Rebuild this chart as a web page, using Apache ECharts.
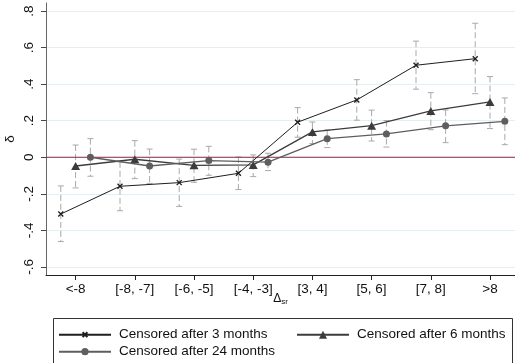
<!DOCTYPE html>
<html>
<head>
<meta charset="utf-8">
<script src="https://cdn.jsdelivr.net/npm/echarts@6/dist/echarts.min.js"></script>
<style>
  html, body { margin: 0; padding: 0; background: #fff; }
  #chart { width: 515px; height: 363px; }
</style>
</head>
<body>
<div id="chart"></div>
<script>
// Bin labels on the horizontal axis (positions 1..8)
const categories = ['<-8', '[-8, -7]', '[-6, -5]', '[-4, -3]', '[3, 4]', '[5, 6]', '[7, 8]', '>8'];
const categoryPositions = [1, 2, 3, 4, 5, 6, 7, 8];

// Vertical axis ticks
const yTickValues = [-0.6, -0.4, -0.2, 0, 0.2, 0.4, 0.6, 0.8];
const yTickLabels = ['-.6', '-.4', '-.2', '0', '.2', '.4', '.6', '.8'];

// Point estimates and confidence bounds, censored after 3 months
const est3 = [-0.311, -0.159, -0.139, -0.088, 0.192, 0.314, 0.504, 0.540];
const lo3  = [-0.462, -0.293, -0.269, -0.177, 0.110, 0.203, 0.373, 0.348];
const hi3  = [-0.157, -0.025, -0.010, 0.001, 0.272, 0.425, 0.636, 0.734];

// Censored after 6 months
const est6 = [-0.048, -0.011, -0.044, -0.042, 0.139, 0.173, 0.254, 0.303];
const lo6  = [-0.168, -0.117, -0.137, -0.106, 0.075, 0.089, 0.151, 0.157];
const hi6  = [0.067, 0.091, 0.044, 0.013, 0.193, 0.258, 0.354, 0.442];

// Censored after 24 months
const est24 = [0.000, -0.048, -0.018, -0.027, 0.102, 0.128, 0.172, 0.197];
const lo24  = [-0.104, -0.143, -0.099, -0.073, 0.053, 0.056, 0.080, 0.069];
const hi24  = [0.102, 0.045, 0.060, 0.022, 0.150, 0.201, 0.259, 0.325];

const seriesNames = ['Censored after 3 months', 'Censored after 6 months', 'Censored after 24 months'];
// horizontal dodge of each group around its bin position
const dodge = [-0.25, 0, 0.25];

const FONT = "'Liberation Sans', Arial, Helvetica, sans-serif";
const CI_COLOR = '#a9a9a9';

function points(est, shift) {
  return est.map((v, i) => [categoryPositions[i] + shift, v]);
}
function ranges(lo, hi, shift) {
  return lo.map((v, i) => [categoryPositions[i] + shift, v, hi[i]]);
}

// dashed vertical interval with short solid caps
function renderCap(params, api) {
  const x = api.value(0);
  const top = api.coord([x, api.value(2)]);
  const bot = api.coord([x, api.value(1)]);
  const half = 3;
  const style = { stroke: CI_COLOR, lineWidth: 1 };
  return {
    type: 'group',
    children: [
      { type: 'line', shape: { x1: top[0], y1: top[1], x2: bot[0], y2: bot[1] },
        style: Object.assign({ lineDash: [6, 3] }, style) },
      { type: 'line', shape: { x1: top[0] - half, y1: top[1], x2: top[0] + half, y2: top[1] }, style: style },
      { type: 'line', shape: { x1: bot[0] - half, y1: bot[1], x2: bot[0] + half, y2: bot[1] }, style: style }
    ]
  };
}

const crossSymbol = 'path://M0,0L10,10M10,0L0,10';

function legendBlock(name, left, top, itemHeight) {
  return {
    data: [name], left: left, top: top, padding: 0,
    itemWidth: 52, itemHeight: itemHeight, selectedMode: false,
    textStyle: { fontSize: 13.5, color: '#111', fontFamily: FONT, padding: [0, 0, 0, 3] }
  };
}

const chart = echarts.init(document.getElementById('chart'), null, { renderer: 'canvas' });

chart.setOption({
  animation: false,
  backgroundColor: '#ffffff',
  textStyle: { fontFamily: FONT },
  grid: { left: 46, right: 0, top: 3, bottom: 88, containLabel: false, outerBoundsMode: 'none' },
  xAxis: {
    type: 'value',
    min: 0.5,
    max: 8.422,
    name: '{d|Δ}{s|sr}',
    nameLocation: 'middle',
    nameGap: 17,
    nameMoveOverlap: false,
    nameTextStyle: {
      rich: {
        d: { fontSize: 12, color: '#111', fontFamily: FONT },
        s: { fontSize: 8, color: '#111', fontFamily: FONT, padding: [6, 0, 0, 0] }
      }
    },
    axisLine: { show: true, onZero: false, lineStyle: { color: '#222', width: 1 } },
    axisTick: { show: true, length: 5, customValues: categoryPositions, lineStyle: { color: '#222' } },
    axisLabel: {
      customValues: categoryPositions,
      formatter: v => categories[Math.round(v) - 1],
      fontSize: 13.5, color: '#111', margin: 7, fontFamily: FONT
    },
    splitLine: { show: false }
  },
  yAxis: {
    type: 'value',
    min: -0.645,
    max: 0.845,
    name: 'δ',
    nameLocation: 'middle',
    nameRotate: 90,
    nameGap: 29,
    nameMoveOverlap: false,
    nameTextStyle: { fontSize: 13.5, color: '#111', fontFamily: FONT },
    axisLine: { show: true, onZero: false, lineStyle: { color: '#666', width: 1 } },
    axisTick: { show: true, length: 5, customValues: yTickValues, lineStyle: { color: '#444' } },
    axisLabel: {
      customValues: yTickValues,
      rotate: 90,
      verticalAlign: 'bottom',
      formatter: v => yTickLabels[yTickValues.findIndex(t => Math.abs(t - v) < 1e-6)],
      fontSize: 13.5, color: '#111', margin: 10, fontFamily: FONT
    },
    splitLine: { show: true, lineStyle: { color: '#e6eef1', width: 1 } }
  },
  legend: [
    legendBlock(seriesNames[0], 58, 327.7, 6),
    legendBlock(seriesNames[1], 296, 327.7, 10),
    legendBlock(seriesNames[2], 58, 344.7, 9)
  ],
  graphic: [
    {
      type: 'rect', z: -1, silent: true,
      shape: { x: 53.5, y: 318.5, width: 459, height: 60 },
      style: { fill: '#fff', stroke: '#333', lineWidth: 1 }
    }
  ],
  series: [
    // confidence intervals
    { type: 'custom', name: 'ci3', renderItem: renderCap, data: ranges(lo3, hi3, dodge[0]), z: 1, clip: true, encode: { x: 0, y: [1, 2] } },
    { type: 'custom', name: 'ci6', renderItem: renderCap, data: ranges(lo6, hi6, dodge[1]), z: 1, clip: true, encode: { x: 0, y: [1, 2] } },
    { type: 'custom', name: 'ci24', renderItem: renderCap, data: ranges(lo24, hi24, dodge[2]), z: 1, clip: true, encode: { x: 0, y: [1, 2] } },
    // zero reference
    {
      type: 'line', name: 'zero', data: [[0.5, 0], [8.6, 0]], symbol: 'none', z: 2, silent: true,
      lineStyle: { color: '#bc1238', width: 1 }
    },
    {
      type: 'line', name: seriesNames[0], data: points(est3, dodge[0]), z: 3,
      symbol: crossSymbol, symbolSize: 5,
      lineStyle: { color: '#1e1e1e', width: 1 },
      itemStyle: { color: 'rgba(0,0,0,0)', borderColor: '#1e1e1e', borderWidth: 1.3 }
    },
    {
      type: 'line', name: seriesNames[1], data: points(est6, dodge[1]), z: 4,
      symbol: 'triangle', symbolSize: [9, 8],
      lineStyle: { color: '#3c3c3c', width: 1.3 },
      itemStyle: { color: '#3c3c3c' }
    },
    {
      type: 'line', name: seriesNames[2], data: points(est24, dodge[2]), z: 5,
      symbol: 'circle', symbolSize: 7,
      lineStyle: { color: '#5e5e5e', width: 1.3 },
      itemStyle: { color: '#5e5e5e' }
    }
  ]
});
</script>
</body>
</html>
